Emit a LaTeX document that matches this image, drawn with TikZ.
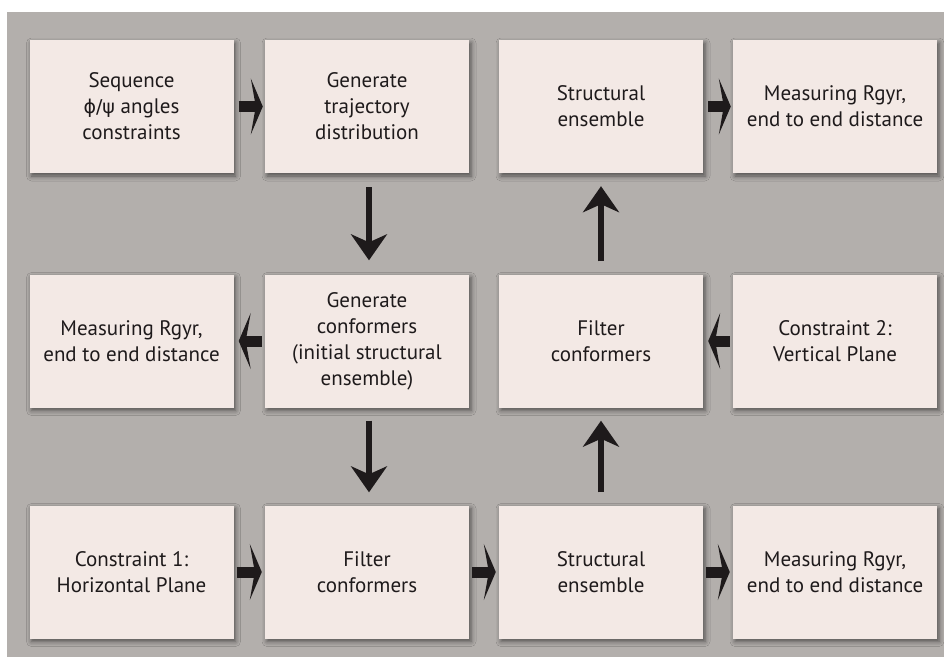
\documentclass[tikz,border=0pt]{standalone}
\usepackage{fontspec}
\setmainfont{PT Sans}
\newfontfamily\grkfont{DejaVu Sans}
\usetikzlibrary{arrows.meta,shadows.blur}
\definecolor{panelgray}{RGB}{179,175,172}
\definecolor{boxfill}{RGB}{243,233,229}
\definecolor{inkblack}{RGB}{30,26,27}
\begin{document}
\begin{tikzpicture}[x=1pt,y=1pt,font=\fontsize{21}{26}\selectfont,
  stagebox/.style={fill=boxfill,minimum width=204pt,minimum height=133pt,inner sep=0pt,
    align=center,text=inkblack,
    blur shadow={shadow xshift=2pt,shadow yshift=-3pt,shadow blur radius=5pt,shadow opacity=55}},
  flowh/.style={-{Stealth[length=12pt,width=56pt,inset=5pt]},line width=11pt,inkblack},
  flowv/.style={-{Stealth[length=26pt,width=36pt,inset=8pt]},line width=6pt,inkblack}]
  \useasboundingbox (0,0) rectangle (944,-657);
  \fill[panelgray] (7,-12) rectangle (944,-657);
  % top row
  \node[stagebox] (seq) at (131.5,-106.5) {Sequence\\{\grkfont\fontsize{19}{26}\selectfont ϕ/ψ} angles\\constraints};
  \node[stagebox] (gentraj) at (367,-106.5) {Generate\\trajectory\\distribution};
  \node[stagebox] (structtop) at (601,-106.5) {Structural\\ensemble};
  \node[stagebox] (measuretop) at (835,-106.5) {Measuring Rgyr,\\end to end distance};
  % middle row
  \node[stagebox] (measuremid) at (131.5,-341) {Measuring Rgyr,\\end to end distance};
  \node[stagebox] (genconf) at (367,-341) {Generate\\conformers\\(initial structural\\ensemble)};
  \node[stagebox] (filtermid) at (601,-341) {Filter\\conformers};
  \node[stagebox] (constrtwo) at (835,-341) {Constraint 2:\\Vertical Plane};
  % bottom row
  \node[stagebox] (constrone) at (131.5,-572) {Constraint 1:\\Horizontal Plane};
  \node[stagebox] (filterbot) at (367,-572) {Filter\\conformers};
  \node[stagebox] (structbot) at (601,-572) {Structural\\ensemble};
  \node[stagebox] (measurebot) at (835,-572) {Measuring Rgyr,\\end to end distance};
  % arrows
  \draw[flowh,shorten <=5pt,shorten >=2pt] (seq) -- (gentraj);
  \draw[flowh,shorten <=5pt,shorten >=2pt] (structtop) -- (measuretop);
  \draw[flowh,shorten <=3pt,shorten >=5pt] (genconf) -- (measuremid);
  \draw[flowh,shorten <=3pt,shorten >=5pt] (constrtwo) -- (filtermid);
  \draw[flowh,shorten <=3pt,shorten >=3pt] (constrone) -- (filterbot);
  \draw[flowh,shorten <=3pt,shorten >=3pt] (filterbot) -- (structbot);
  \draw[flowh,shorten <=3pt,shorten >=3pt] (structbot) -- (measurebot);
  \draw[flowv,shorten <=14pt,shorten >=14pt] ([xshift=2pt]gentraj.south) -- ([xshift=2pt]genconf.north);
  \draw[flowv,shorten <=13pt,shorten >=13pt] ([xshift=2pt]genconf.south) -- ([xshift=2pt]filterbot.north);
  \draw[flowv,shorten <=13pt,shorten >=13pt] (structbot.north) -- (filtermid.south);
  \draw[flowv,shorten <=13pt,shorten >=13pt] (filtermid.north) -- (structtop.south);
\end{tikzpicture}
\end{document}
